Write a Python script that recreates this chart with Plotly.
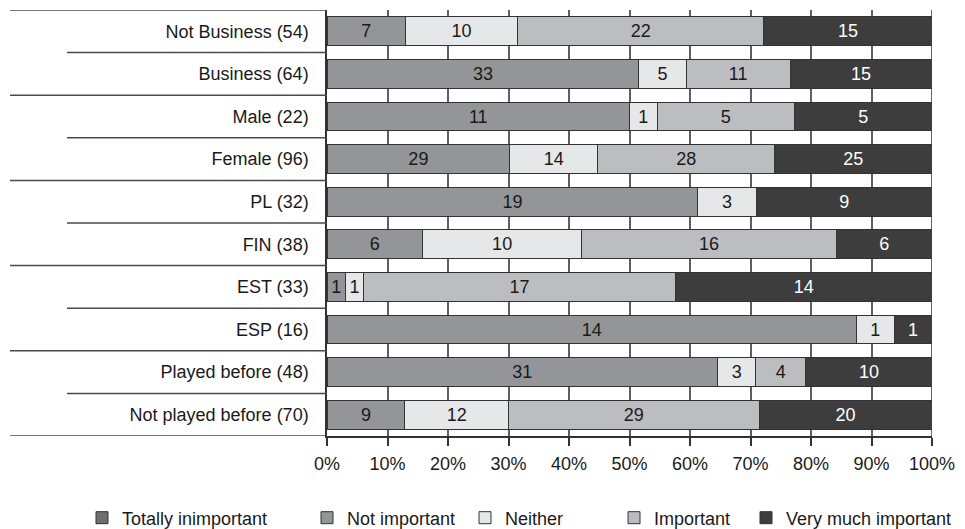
import plotly.graph_objects as go

# Respondent groups (top to bottom) and answer counts per importance level
groups = [
    "Not Business (54)", "Business (64)", "Male (22)", "Female (96)", "PL (32)",
    "FIN (38)", "EST (33)", "ESP (16)", "Played before (48)", "Not played before (70)",
]
totally_inimportant = [0, 0, 0, 0, 0, 0, 0, 0, 0, 0]
not_important = [7, 33, 11, 29, 19, 6, 1, 14, 31, 9]
neither = [10, 5, 1, 14, 3, 10, 1, 1, 3, 12]
important = [22, 11, 5, 28, 0, 16, 17, 0, 4, 29]
very_much_important = [15, 15, 5, 25, 9, 6, 14, 1, 10, 20]

levels = ["Totally inimportant", "Not important", "Neither", "Important", "Very much important"]
series = [totally_inimportant, not_important, neither, important, very_much_important]
fills = ["#6d6e71", "#939598", "#e6e7e8", "#bcbdc0", "#3d3d3d"]
text_colors = ["#1a1a1a", "#1a1a1a", "#1a1a1a", "#1a1a1a", "#ffffff"]

# left edge of each legend entry, in pixels, and the plot frame in pixels
legend_left_px = [82, 307, 465, 614, 746]
W, H = 965, 529
ML, MR, MT, MB = 327, 33, 10, 93
PW = W - ML - MR
PH = H - MT - MB

FONT = "Liberation Sans, Arial, sans-serif"

fig = go.Figure()
for i, (name, vals, col, tcol) in enumerate(zip(levels, series, fills, text_colors)):
    fig.add_trace(go.Bar(
        name=name,
        y=groups,
        x=vals,
        orientation="h",
        width=0.68,
        marker=dict(color=col, line=dict(color="#333333", width=1)),
        text=[str(v) if v else "" for v in vals],
        textposition="inside",
        insidetextanchor="middle",
        textangle=0,
        constraintext="none",
        textfont=dict(family=FONT, size=18, color=tcol),
        hoverinfo="skip",
        legend="legend" if i == 0 else f"legend{i + 1}",
    ))

# alternating long/short separators between the group labels
shapes = []
for k in range(len(groups) + 1):
    shapes.append(dict(
        type="line", xref="paper", yref="y",
        x0=(10 - ML) / PW if k % 2 == 0 else (67 - ML) / PW, x1=0,
        y0=k - 0.5, y1=k - 0.5,
        line=dict(color="#4a4a4a", width=1.5),
        layer="above",
    ))
# right-hand frame edge at 100 %
shapes.append(dict(
    type="line", xref="x", yref="paper", x0=100, x1=100, y0=0, y1=1,
    line=dict(color="#333333", width=1.5), layer="below",
))

legend_common = dict(
    orientation="h", yanchor="middle", y=-(518 - (H - MB)) / PH, xanchor="left",
    font=dict(family=FONT, size=18, color="#1a1a1a"),
    bgcolor="rgba(0,0,0,0)", borderwidth=0, itemclick=False, itemdoubleclick=False,
)
legends = {}
for i, px in enumerate(legend_left_px):
    key = "legend" if i == 0 else f"legend{i + 1}"
    legends[key] = dict(legend_common, x=(px - ML) / PW)

fig.update_layout(
    width=W, height=H,
    margin=dict(l=ML, r=MR, t=MT, b=MB, pad=0, autoexpand=False),
    barmode="stack",
    barnorm="percent",
    paper_bgcolor="white",
    plot_bgcolor="white",
    font=dict(family=FONT, size=18, color="#1a1a1a"),
    uniformtext=dict(minsize=18, mode="show"),
    showlegend=True,
    shapes=shapes,
    xaxis=dict(
        range=[0, 100], dtick=10, tick0=0, ticksuffix="%",
        showgrid=True, gridcolor="#5f5f5f", gridwidth=1.5,
        showline=True, linecolor="#333333", linewidth=1.5,
        ticks="outside", ticklen=8, tickcolor="#333333", tickwidth=1.5,
        ticklabelstandoff=3,
        zeroline=False, fixedrange=True, automargin=False,
        tickfont=dict(family=FONT, size=18, color="#1a1a1a"),
    ),
    yaxis=dict(
        type="category", categoryorder="array", categoryarray=groups,
        range=[len(groups) - 0.5, -0.5],
        showgrid=False, zeroline=False,
        showline=True, linecolor="#333333", linewidth=1.5,
        ticks="", ticklabelstandoff=13, fixedrange=True, automargin=False,
        tickfont=dict(family=FONT, size=18, color="#1a1a1a"),
    ),
    **legends,
)

fig.write_html("out.html")
